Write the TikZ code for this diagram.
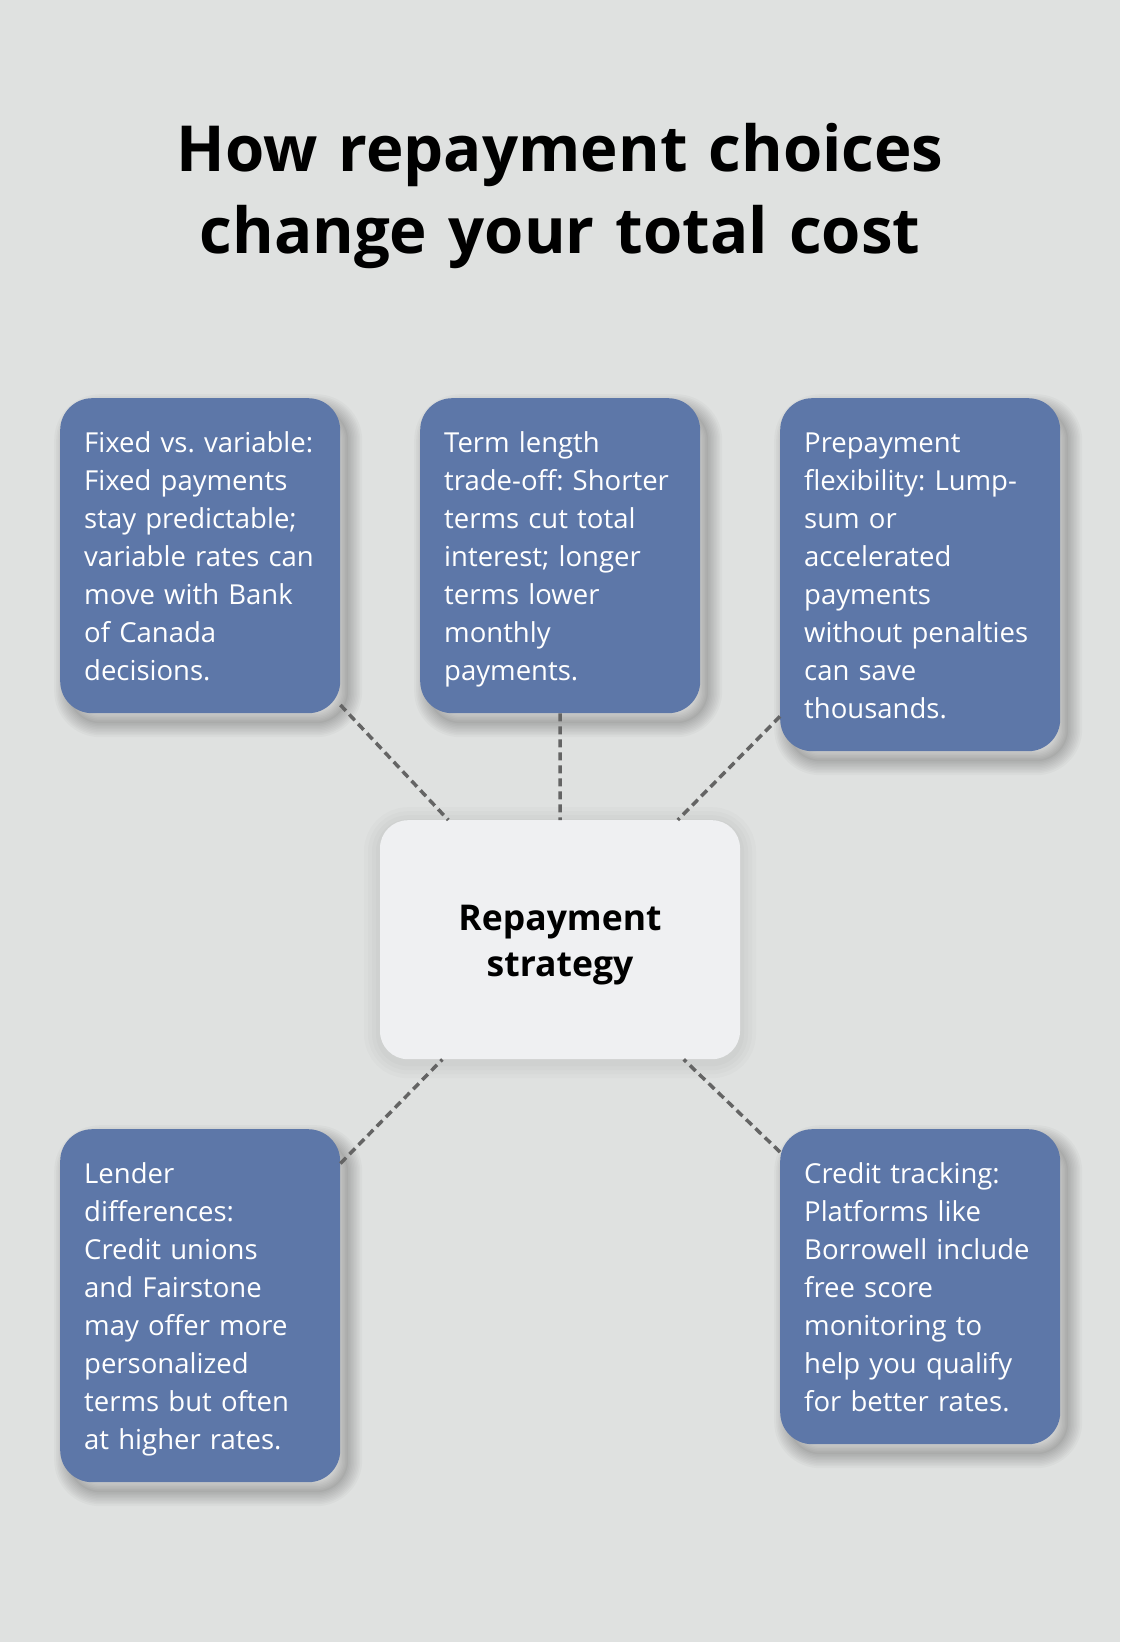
\documentclass[tikz,border=0pt]{standalone}
\usepackage{fontspec}
\setmainfont{Open Sans}
\usepackage{tikz}
\frenchspacing
\hyphenpenalty=10000
\definecolor{backcolor}{RGB}{223,225,224}
\definecolor{cardcolor}{RGB}{93,119,168}
\definecolor{hubcolor}{RGB}{239,240,242}
\definecolor{linkcolor}{RGB}{100,100,100}
\tikzset{
	shadering/.style={
		preaction={draw=black,line width=#1,draw opacity=0.022,transform canvas={shift={(8pt,-10pt)}}}
	},
	softshade/.style={
		preaction={fill=black,fill opacity=0.03,transform canvas={shift={(8pt,-10pt)}}},
		shadering=3pt,shadering=6pt,shadering=9pt,shadering=12pt,
		shadering=15pt,shadering=18pt,shadering=21pt,shadering=24pt,shadering=28pt
	},
	roundshade/.style={
		preaction={draw=black,line width=8pt,draw opacity=#1,transform canvas={shift={(0pt,-3pt)}}},
		preaction={draw=black,line width=16pt,draw opacity=#1,transform canvas={shift={(0pt,-3pt)}}},
		preaction={draw=black,line width=24pt,draw opacity=#1,transform canvas={shift={(0pt,-3pt)}}},
		preaction={draw=black,line width=32pt,draw opacity=#1,transform canvas={shift={(0pt,-3pt)}}}
	},
	card/.style={
		rectangle,
		rounded corners=32pt,
		fill=cardcolor,
		text=white,
		softshade,
		anchor=north west,
		text width=232pt,
		inner xsep=24pt,
		inner ysep=0pt,
		align=left,
		font=\fontsize{27.5pt}{38pt}\selectfont,
		execute at begin node=\rule{0pt}{54pt},
		execute at end node=\rule[-33pt]{0pt}{33pt}
	},
	hub/.style={
		rectangle,
		rounded corners=28pt,
		fill=hubcolor,
		roundshade=0.015,
		anchor=north,
		text width=360pt,
		inner sep=0pt,
		align=center,
		font=\fontsize{35.5pt}{46pt}\selectfont\bfseries,
		execute at begin node=\rule{0pt}{110pt},
		execute at end node=\rule[-83pt]{0pt}{83pt}
	},
	headline/.style={
		anchor=base,
		text width=1000pt,
		align=center,
		font=\fontsize{63.5pt}{82pt}\selectfont\bfseries
	},
	link/.style={
		draw=linkcolor,
		line width=3.5pt,
		dash pattern=on 8pt off 5pt
	},
}

\begin{document}
\begin{tikzpicture}[x=1pt,y=-1pt]
	\fill[backcolor] (0,0) rectangle (1120,1642);
	\useasboundingbox (0,0) rectangle (1120,1642);
	\node[headline] (title) at (560,171) {How repayment choices\\change your total cost};
	\node[card] (fixed) at (60,398) {Fixed vs. variable:\\Fixed payments\\stay predictable;\\variable rates can\\move with Bank\\of Canada\\decisions.};
	\node[card] (term) at (420,398) {Term length\\trade-off: Shorter\\terms cut total\\interest; longer\\terms lower\\monthly\\payments.};
	\node[card] (prepay) at (780,398) {Prepayment\\flexibility: Lump-\\sum or\\accelerated\\payments\\without penalties\\can save\\thousands.};
	\node[hub] (hub) at (560,820) {Repayment\\strategy};
	\node[card] (lender) at (60,1129) {Lender\\differences:\\Credit unions\\and Fairstone\\may offer more\\personalized\\terms but often\\at higher rates.};
	\node[card] (credit) at (780,1129) {Credit tracking:\\Platforms like\\Borrowell include\\free score\\monitoring to\\help you qualify\\for better rates.};
	\foreach \c in {fixed,term,prepay,lender,credit}
		\draw[link] (\c) -- (hub);
\end{tikzpicture}
\end{document}
